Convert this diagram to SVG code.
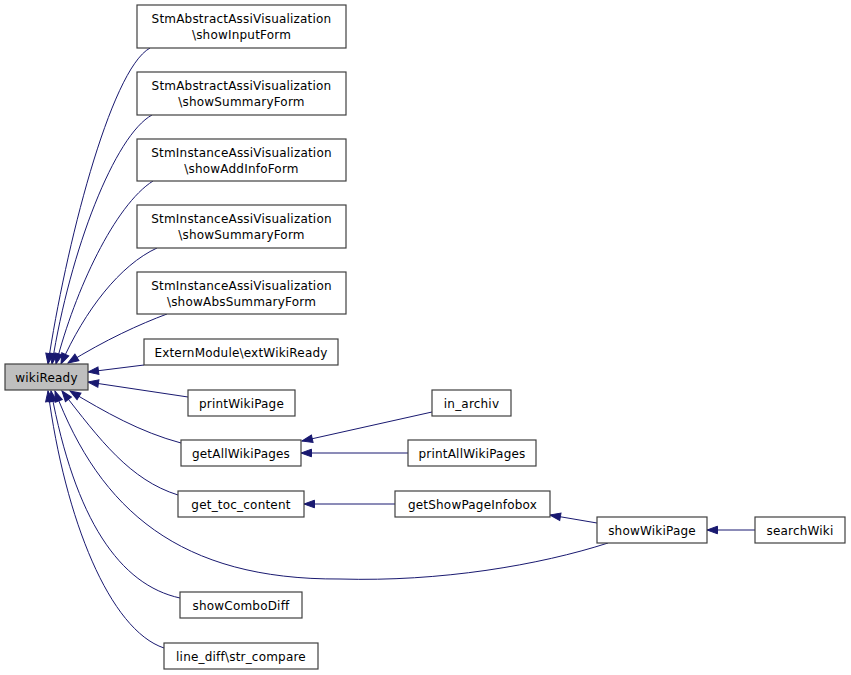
<svg xmlns="http://www.w3.org/2000/svg" width="851" height="675" viewBox="0 0 851 675">
<style>
  .n rect { fill: #ffffff; stroke: #404040; stroke-width: 1.2; }
  .n.root rect { fill: #bfbfbf; }
  .n text { font-family: "DejaVu Sans", "Liberation Sans", sans-serif; font-size: 12px; letter-spacing: 0.2px; fill: #000000; text-anchor: middle; }
  .e path { fill: none; stroke: #191970; stroke-width: 1; marker-end: url(#ah); }
</style>
<defs>
  <marker id="ah" markerUnits="userSpaceOnUse" markerWidth="13" markerHeight="10" viewBox="-12 -5 13 10" refX="0" refY="0" orient="auto">
    <polygon points="0,0 -10.5,-3.8 -10.5,3.8" fill="#191970" stroke="#191970" stroke-width="1"/>
  </marker>
</defs>
<rect x="0" y="0" width="851" height="675" fill="#ffffff"/>
<g id="connectors" class="e">
  <path d="M150,48 C110,70 65,250 48,364"/>
  <path d="M152,115 C115,135 70,250 52,364"/>
  <path d="M153,181 C115,205 75,290 56,364"/>
  <path d="M157,248 C120,265 85,310 61,364"/>
  <path d="M167,314 C140,324 105,340 68,363"/>
  <path d="M144,365 L88,372"/>
  <path d="M188,397 L88,382"/>
  <path d="M181,443 C140,432 105,412 70,391"/>
  <path d="M178,495 C130,480 100,440 62,391"/>
  <path d="M608,543 C540,565 440,582 340,579 C180,580 100,510 55,391"/>
  <path d="M180,598 C120,585 75,520 51,391"/>
  <path d="M164,648 C110,630 65,520 48,391"/>
  <path d="M432,412 L302,441"/>
  <path d="M408,453 L301,453"/>
  <path d="M395,504 L304,504"/>
  <path d="M597,523 L550,515"/>
  <path d="M755,530 L707,530"/>
</g>
<g id="wikiReady" class="n root"><rect x="5" y="364" width="83" height="26"/><text x="46.5" y="382">wikiReady</text></g>
<g id="showInputForm" class="n"><rect x="137" y="5" width="209" height="43"/><text x="241.5" y="23">StmAbstractAssiVisualization</text><text x="241.5" y="39">\showInputForm</text></g>
<g id="absShowSummaryForm" class="n"><rect x="137" y="72" width="209" height="43"/><text x="241.5" y="90">StmAbstractAssiVisualization</text><text x="241.5" y="106">\showSummaryForm</text></g>
<g id="showAddInfoForm" class="n"><rect x="137" y="139" width="209" height="42"/><text x="241.5" y="157">StmInstanceAssiVisualization</text><text x="241.5" y="173">\showAddInfoForm</text></g>
<g id="instShowSummaryForm" class="n"><rect x="137" y="205" width="209" height="43"/><text x="241.5" y="223">StmInstanceAssiVisualization</text><text x="241.5" y="239">\showSummaryForm</text></g>
<g id="showAbsSummaryForm" class="n"><rect x="137" y="272" width="209" height="42"/><text x="241.5" y="290">StmInstanceAssiVisualization</text><text x="241.5" y="306">\showAbsSummaryForm</text></g>
<g id="extWikiReady" class="n"><rect x="144" y="339" width="194" height="26"/><text x="241" y="357">ExternModule\extWikiReady</text></g>
<g id="printWikiPage" class="n"><rect x="188" y="390" width="107" height="26"/><text x="241.5" y="408">printWikiPage</text></g>
<g id="getAllWikiPages" class="n"><rect x="181" y="440" width="120" height="26"/><text x="241" y="458">getAllWikiPages</text></g>
<g id="get_toc_content" class="n"><rect x="178" y="491" width="126" height="26"/><text x="241" y="509">get_toc_content</text></g>
<g id="showComboDiff" class="n"><rect x="180" y="592" width="122" height="26"/><text x="241" y="610">showComboDiff</text></g>
<g id="str_compare" class="n"><rect x="164" y="643" width="154" height="26"/><text x="241" y="661">line_diff\str_compare</text></g>
<g id="in_archiv" class="n"><rect x="432" y="390" width="79" height="26"/><text x="471.5" y="408">in_archiv</text></g>
<g id="printAllWikiPages" class="n"><rect x="408" y="440" width="128" height="26"/><text x="472" y="458">printAllWikiPages</text></g>
<g id="getShowPageInfobox" class="n"><rect x="395" y="491" width="155" height="26"/><text x="472.5" y="509">getShowPageInfobox</text></g>
<g id="showWikiPage" class="n"><rect x="597" y="517" width="110" height="26"/><text x="652" y="535">showWikiPage</text></g>
<g id="searchWiki" class="n"><rect x="755" y="517" width="90" height="26"/><text x="800" y="535">searchWiki</text></g>
</svg>
